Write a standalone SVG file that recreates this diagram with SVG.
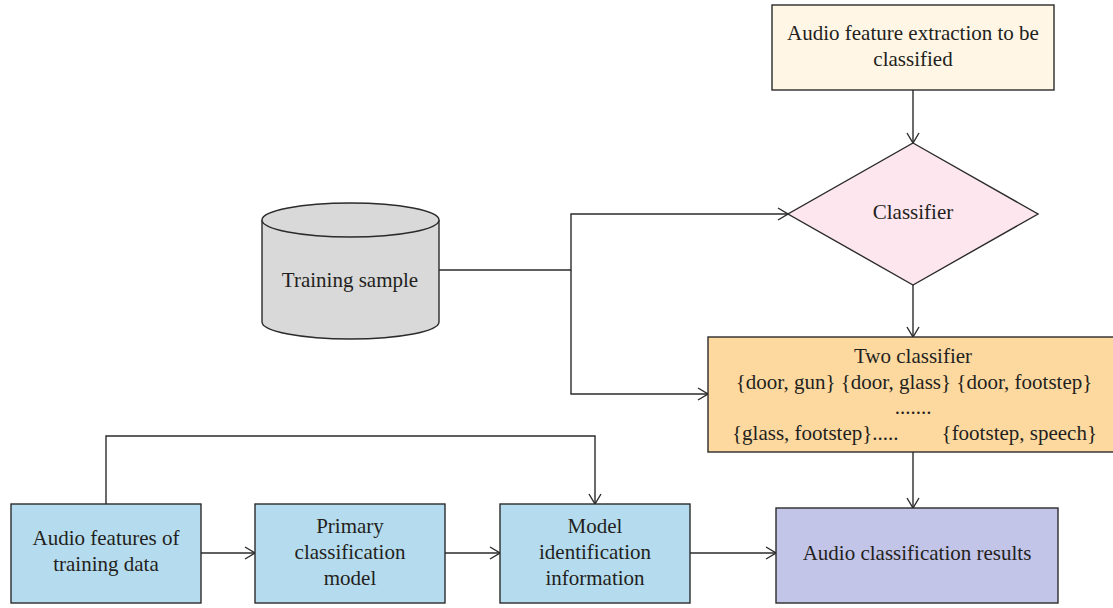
<svg xmlns="http://www.w3.org/2000/svg" width="1113" height="608" viewBox="0 0 1113 608">
  <style>
    .box { stroke: #2b2b2b; stroke-width: 1.4; }
    .lbl { font-family: "Liberation Serif", "DejaVu Serif", serif; font-size: 21px; fill: #231f20; text-anchor: middle; }
    .wire { fill: none; stroke: #2b2b2b; stroke-width: 1.4; }
  </style>
  <defs>
    <marker id="open" viewBox="0 0 12 14" refX="11" refY="7" markerWidth="12" markerHeight="14" markerUnits="userSpaceOnUse" orient="auto">
      <path d="M1,1 L11,7 L1,13" fill="none" stroke="#2b2b2b" stroke-width="1.4"/>
    </marker>
  </defs>

  <rect width="1113" height="608" fill="#ffffff"/>

  <!-- connectors -->
  <g id="connectors" class="wire">
    <line x1="913" y1="90" x2="913" y2="143" marker-end="url(#open)"/>
    <line x1="913" y1="285" x2="913" y2="337" marker-end="url(#open)"/>
    <line x1="913" y1="452" x2="913" y2="508" marker-end="url(#open)"/>
    <polyline points="439,270 571,270 571,214 788,214" marker-end="url(#open)"/>
    <polyline points="571,270 571,394 708,394" marker-end="url(#open)"/>
    <polyline points="106,504 106,436 595,436 595,504" marker-end="url(#open)"/>
    <line x1="201" y1="553" x2="255" y2="553" marker-end="url(#open)"/>
    <line x1="445" y1="553" x2="500" y2="553" marker-end="url(#open)"/>
    <line x1="690" y1="553" x2="776" y2="553" marker-end="url(#open)"/>
  </g>

  <g id="extraction">
    <rect class="box" x="772" y="5" width="282" height="85" fill="#fff6e5"/>
    <text class="lbl" x="913" y="40">Audio feature extraction to be</text>
    <text class="lbl" x="913" y="66">classified</text>
  </g>

  <g id="classifier">
    <polygon class="box" points="913,143 1038,214 913,285 788,214" fill="#fde6ee"/>
    <text class="lbl" x="913" y="219">Classifier</text>
  </g>

  <g id="training-sample">
    <path class="box" d="M262,220 L262,322 A88.5,17 0 0 0 439,322 L439,220" fill="#d9d9d9"/>
    <ellipse class="box" cx="350.5" cy="220" rx="88.5" ry="17" fill="#d9d9d9"/>
    <text class="lbl" x="350" y="287">Training sample</text>
  </g>

  <g id="two-classifier">
    <rect class="box" x="708" y="337" width="406" height="115" fill="#fdd9a0"/>
    <text class="lbl" x="913" y="363">Two classifier</text>
    <text class="lbl" x="914" y="389">{door, gun} {door, glass} {door, footstep}</text>
    <text class="lbl" x="913" y="414">.......</text>
    <text class="lbl" x="732" y="440" style="text-anchor:start">{glass, footstep}.....</text>
    <text class="lbl" x="1097" y="440" style="text-anchor:end">{footstep, speech}</text>
  </g>

  <g id="results">
    <rect class="box" x="776" y="508" width="282" height="95" fill="#c2c5e8"/>
    <text class="lbl" x="917" y="560">Audio classification results</text>
  </g>

  <g id="training-features">
    <rect class="box" x="11" y="504" width="190" height="99" fill="#b5dcee"/>
    <text class="lbl" x="106" y="545">Audio features of</text>
    <text class="lbl" x="106" y="571">training data</text>
  </g>

  <g id="primary-model">
    <rect class="box" x="255" y="504" width="190" height="99" fill="#b5dcee"/>
    <text class="lbl" x="350" y="533">Primary</text>
    <text class="lbl" x="350" y="559">classification</text>
    <text class="lbl" x="350" y="585">model</text>
  </g>

  <g id="model-identification">
    <rect class="box" x="500" y="504" width="190" height="99" fill="#b5dcee"/>
    <text class="lbl" x="595" y="533">Model</text>
    <text class="lbl" x="595" y="559">identification</text>
    <text class="lbl" x="595" y="585">information</text>
  </g>
</svg>
